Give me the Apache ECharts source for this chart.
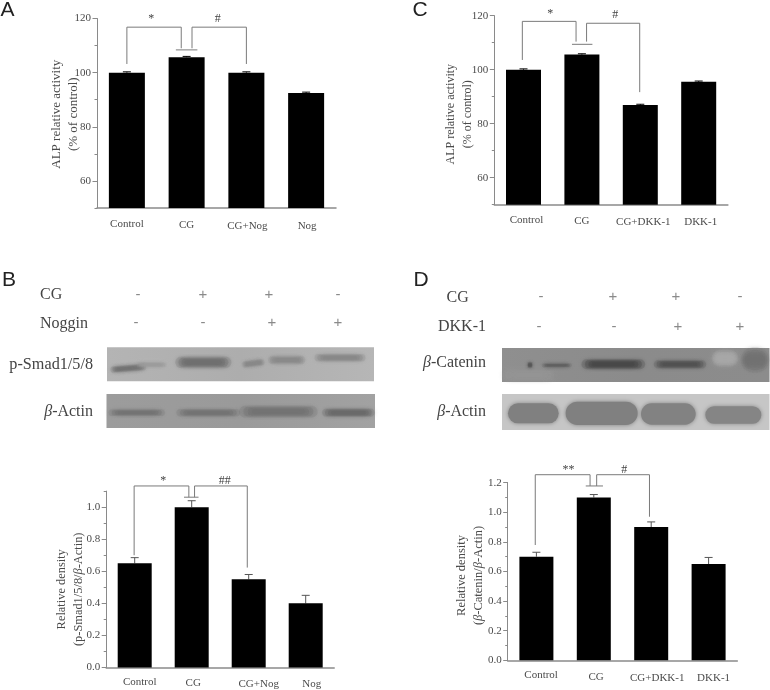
<!DOCTYPE html>
<html><head><meta charset="utf-8">
<style>html,body{margin:0;padding:0;background:#fff}#c{width:770px;height:690px}</style>
<script src="https://cdn.jsdelivr.net/npm/echarts@6/dist/echarts.min.js"></script>
</head><body><div id="c"></div>
<script>
// ---------- data ----------
const categoriesA = ['Control', 'CG', 'CG+Nog', 'Nog'];
const categoriesC = ['Control', 'CG', 'CG+DKK-1', 'DKK-1'];
const valuesA = [100, 105.7, 100, 92.5];
const errorsA = [0.3, 0.3, 0.3, 0.3];
const valuesC = [100, 105.6, 86.9, 95.5];
const errorsC = [0.3, 0.3, 0.3, 0.3];
const valuesB = [0.65, 1.0, 0.55, 0.4];
const errorsB = [0.035, 0.04, 0.03, 0.05];
const valuesD = [0.7, 1.1, 0.9, 0.65];
const errorsD = [0.03, 0.02, 0.035, 0.045];
const majorA = [60, 80, 100, 120];
const majorB = [0, 0.2, 0.4, 0.6, 0.8, 1.0];
const majorD = [0, 0.2, 0.4, 0.6, 0.8, 1.0, 1.2];
// brackets: polylines in [category position, value]
const bracketsA = [[[0,103.2],[0,116.8],[0.91,116.8],[0.91,109]],[[1.09,109],[1.09,116.8],[2,116.8],[2,103.2]],[[0.82,108.4],[1.18,108.4]]];
const bracketsC = [[[-0.02,103.6],[-0.02,117.9],[0.9,117.9],[0.9,110.4]],[[1.08,110.4],[1.08,117.2],[1.99,117.2],[1.99,91.7]],[[0.83,109.4],[1.18,109.4]]];
const bracketsB = [[[-0.01,0.70],[-0.01,1.132],[0.95,1.132],[0.95,1.062]],[[1.05,1.062],[1.05,1.132],[1.975,1.132],[1.975,0.623]],[[0.865,1.062],[1.12,1.062]]];
const bracketsD = [[[-0.02,0.779],[-0.02,1.254],[0.935,1.254],[0.935,1.178]],[[1.05,1.178],[1.05,1.254],[1.97,1.254],[1.97,0.97]],[[0.86,1.178],[1.16,1.178]]];
const marksA = [['*',0.41,120.0],['#',1.52,120.0]];
const marksC = [['*',0.46,120.7],['#',1.57,120.5]];
const marksB = [['*',0.5,1.165],['##',1.58,1.165]];
const marksD = [['**',0.56,1.29],['#',1.53,1.29]];
const rowCG_B = ['-', '+', '+', '-'];
const rowNoggin = ['-', '-', '+', '+'];
const rowCG_D = ['-', '+', '+', '-'];
const rowDKK = ['-', '-', '+', '+'];

// ---------- layout ----------
const FONT = '"Liberation Serif", serif';
const TXT = '#4a4a4a', AX = '#8a8a8a';
const panels = [
  {cats:categoriesA, vals:valuesA, errs:errorsA, br:bracketsA, marks:marksA, major:majorA, min:50, max:120, step:10, fmt:v=>String(v),
   box:[97,18.5,239,189.5], bar:36, errColor:'#000', name:'ALP relative activity\n(% of control)', gap:15, nameSize:13, namePad:[0,2,0,0], margin:10.5, nudge:[[0,0],[0,1],[1,2],[1,2]]},
  {cats:categoriesC, vals:valuesC, errs:errorsC, br:bracketsC, marks:marksC, major:majorA, min:50, max:120, step:10, fmt:v=>String(v),
   box:[494.3,15.7,233.6,189], bar:35, errColor:'#000', name:'ALP relative activity\n(% of control)', gap:17.5, nameSize:12, namePad:[0,8,0,0], margin:9.5, nudge:[[3,0],[0,1],[3,2],[2,2]]},
  {cats:categoriesA, vals:valuesB, errs:errorsB, br:bracketsB, marks:marksB, major:majorB, min:0, max:1.1, step:0.1, fmt:v=>v.toFixed(1),
   box:[106.2,491.1,228,178.2], bar:34, errColor:'#555', name:'Relative density\n(p-Smad1/5/8/{i|β}-Actin)', gap:19, nameSize:12.4, namePad:[0,20,0,0], margin:9.5, nudge:[[5,0],[1.5,1],[10,2],[6,2]]},
  {cats:categoriesC, vals:valuesD, errs:errorsD, br:bracketsD, marks:marksD, major:majorD, min:0, max:1.2, step:0.1, fmt:v=>v.toFixed(1),
   box:[507.7,482.7,229.6,177.6], bar:34, errColor:'#555', name:'Relative density\n({i|β}-Catenin/{i|β}-Actin)', gap:20, nameSize:12.5, namePad:[0,8,0,0], margin:9.5, nudge:[[4.7,0],[2.3,2],[6,2.5],[5,2.5]]}
];

const grid=[], xAxis=[], yAxis=[], series=[];
panels.forEach((p,g)=>{
  const b=p.box;
  grid.push({left:b[0],top:b[1],width:b[2],height:b[3]});
  const rich={};
  p.nudge.forEach((n,i)=>{rich['l'+i]={fontFamily:FONT,fontSize:11,color:TXT,padding:[n[1],0,0,Math.max(0,n[0]*2)]};});
  xAxis.push({type:'category',gridIndex:g,data:p.cats,
    axisLine:{lineStyle:{color:AX,width:1.5}},
    axisTick:{alignWithLabel:true,length:4,lineStyle:{color:AX}},
    axisLabel:{margin:p.margin,interval:0,formatter:(v,i)=>`{l${i}|${v}}`,rich}});
  xAxis.push({type:'category',gridIndex:g,position:'bottom',data:p.cats,
    axisLine:{show:false},axisTick:{length:2,lineStyle:{color:AX}},axisLabel:{show:false}});
  yAxis.push({type:'value',gridIndex:g,min:p.min,max:p.max,interval:p.step,splitLine:{show:false},
    axisLine:{show:true,lineStyle:{color:AX,width:1}},
    axisTick:{show:true,length:2.5,lineStyle:{color:AX}},
    axisLabel:{customValues:p.major,formatter:p.fmt,fontFamily:FONT,fontSize:11,color:TXT,margin:6},
    name:p.name,nameLocation:'middle',nameGap:p.gap,nameRotate:90,nameMoveOverlap:false,
    nameTextStyle:{fontFamily:FONT,fontSize:p.nameSize,color:TXT,lineHeight:17,align:'center',verticalAlign:'bottom',padding:p.namePad,
      rich:{i:{fontFamily:FONT,fontStyle:'italic',fontSize:p.nameSize,color:TXT,lineHeight:17}}}});
  yAxis.push({type:'value',gridIndex:g,position:'left',min:p.min,max:p.max,interval:p.step,splitLine:{show:false},
    axisLine:{show:false},axisLabel:{show:false},
    axisTick:{show:true,customValues:p.major,length:4.5,lineStyle:{color:AX}}});
  const xi=2*g, yi=2*g;
  series.push({type:'bar',xAxisIndex:xi,yAxisIndex:yi,data:p.vals,barWidth:p.bar,itemStyle:{color:'#000'},silent:true});
  series.push({type:'custom',xAxisIndex:xi,yAxisIndex:yi,z:1,silent:true,
    data:p.vals.map((v,i)=>[i,v,v+p.errs[i]]),
    encode:{x:0,y:[1,2]},
    renderItem:(params,api)=>{
      const lo=api.coord([api.value(0),api.value(1)]), hi=api.coord([api.value(0),api.value(2)]);
      const s={stroke:p.errColor,lineWidth:1,fill:null};
      return {type:'group',children:[
        {type:'line',shape:{x1:lo[0],y1:lo[1],x2:hi[0],y2:hi[1]},style:s},
        {type:'line',shape:{x1:hi[0]-4,y1:hi[1],x2:hi[0]+4,y2:hi[1]},style:s}]};
    }});
  const pt=(api,q)=>{const base=Math.round(q[0]),c=api.coord([base,q[1]]),w=api.size([1,0])[0];return [c[0]+(q[0]-base)*w,c[1]];};
  series.push({type:'custom',xAxisIndex:xi,yAxisIndex:yi,z:3,silent:true,clip:false,
    data:p.br.map((_,i)=>[i]),encode:{x:[],y:[]},
    renderItem:(params,api)=>({type:'polyline',shape:{points:p.br[params.dataIndex].map(q=>pt(api,q))},
      style:{stroke:'#7a7a7a',lineWidth:1,fill:null}})});
  series.push({type:'custom',xAxisIndex:xi,yAxisIndex:yi,z:3,silent:true,clip:false,
    data:p.marks.map((_,i)=>[i]),encode:{x:[],y:[]},
    renderItem:(params,api)=>{const m=p.marks[params.dataIndex],c=pt(api,[m[1],m[2]]);
      return {type:'text',x:c[0],y:c[1],style:{text:m[0],fontFamily:FONT,fontSize:12,fill:'#444',align:'center',verticalAlign:'middle'}};}});
});

// ---------- letters, blot labels and blot images (not data) ----------
const g=[];
const text=(t,x,y,size,opt)=>g.push({type:'text',x,y,silent:true,style:Object.assign({text:t,fontFamily:FONT,fontSize:size,fill:'#444',align:'left',verticalAlign:'middle'},opt||{})});
const SANS='"Liberation Sans", sans-serif';
[['A',0.5,10],['C',412.5,10.5],['B',2,280.5],['D',413.5,280.5]].forEach(l=>text(l[0],l[1],l[2],21,{fontFamily:SANS,fill:'#222'}));
text('CG',40,295,16); text('Noggin',40,323.5,16);
text('p-Smad1/5/8',93,364.5,16.2,{align:'right'});
const rbeta=(label,x,y)=>text('{i|β}-'+label,x,y,16,{align:'right',rich:{i:{fontStyle:'italic',fontFamily:FONT,fontSize:16,fill:'#444'}}});
rbeta('Actin',93,412);
text('CG',446.5,298,16); text('DKK-1',438,327,16);
rbeta('Catenin',486,363); rbeta('Actin',486,412);
const row=(vals,xs,y)=>vals.forEach((v,i)=>text(v,xs[i],y,15,{align:'center',fill:'#8a8a8a',fontFamily:SANS}));
row(rowCG_B,[138,203,269,338],295); row(rowNoggin,[136,203,272,338],323);
row(rowCG_D,[541,613,676,740],297); row(rowDKK,[539,614,678,740],327);

// soft band: nested rounded rectangles, light to dark (flat: a single blurred one)
const SOFT=[[1.25,0.22],[1,0.3],[0.75,0.38],[0.5,0.45]], FLAT=[[1,1]];
const blot=(x0,y0,x,y,w,h,bg,bands,layers)=>{
  g.push({type:'rect',silent:true,shape:{x,y,width:w,height:h},style:{fill:bg}});
  bands.forEach(b=>{
    const cx=x0+b[0]/3, cy=y0+b[1]/3;
    (layers||SOFT).forEach(l=>{
      const rx=b[2]/3*(1-(1-l[0])*0.5), ry=b[3]/3*l[0];
      g.push({type:'rect',silent:true,originX:cx,originY:cy,rotation:b[5]||0,
        shape:{x:cx-rx,y:cy-ry,width:2*rx,height:2*ry,r:ry},
        style:{fill:b[4],opacity:l[1],shadowBlur:4,shadowColor:b[4]}});
    });
  });
};
const grad=(a,c,e)=>({type:'linear',x:0,y:0,x2:1,y2:0,colorStops:[{offset:0,color:a},{offset:.5,color:c},{offset:1,color:e}]});
blot(0,260,107,347.3,267,34,grad('#b4b4b4','#adadad','#b6b6b6'),[
  [385,325,48,8,'#6e6e6e',0.08],[455,314,40,6,'#9a9a9a',0],
  [610,307,75,14,'#6c6c6c'],[760,310,30,8,'#868686',0.12],[860,300,50,10,'#888888'],[1020,293,68,9,'#858585']]);
blot(0,260,106.5,394,268.5,34,grad('#9c9c9c','#9a9a9a','#a2a2a2'),[
  [410,458,75,8,'#707070'],[625,458,85,9,'#727272'],[835,455,105,14,'#727272'],[1045,458,70,10,'#666666']]);
blot(385,260,502,348,267.5,34,grad('#8f8f8f','#8b8b8b','#8c8c8c'),[
  [430,345,70,14,'#949494'],[435,315,7,8,'#505050'],[515,316,40,5,'#5c5c5c'],[685,313,85,12,'#454545'],
  [885,313,70,10,'#4e4e4e'],[1020,295,36,20,'#a8a8a8'],[1110,300,38,30,'#707070']]);
blot(385,260,502,394,267.5,36,'#c6c6c6',[
  [445,460,76,30,'#808080'],[650,460,108,35,'#808080'],[850,462,82,32,'#828282'],[1045,465,84,26,'#858585']],FLAT);

const chart=echarts.init(document.getElementById('c'),null,{renderer:'canvas'});
chart.setOption({animation:false,backgroundColor:'#fff',grid,xAxis,yAxis,series,tooltip:{show:false},graphic:{elements:g}});
</script></body></html>
